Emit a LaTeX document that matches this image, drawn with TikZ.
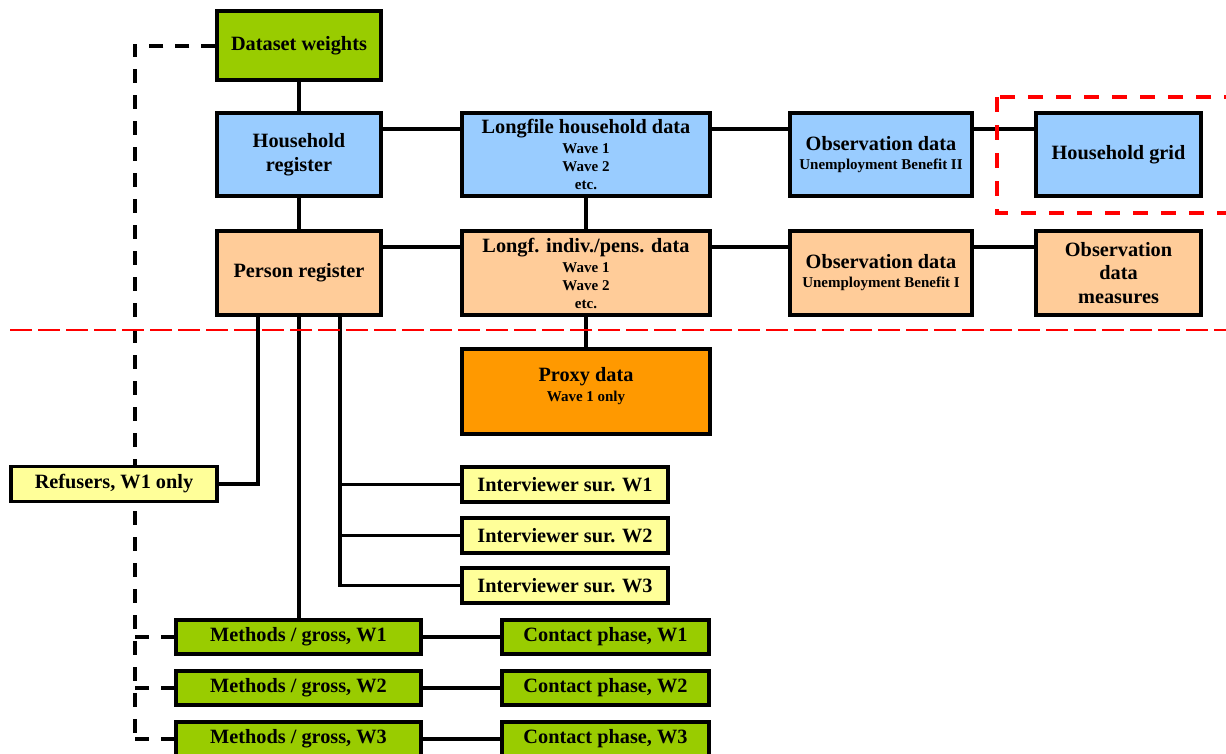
\documentclass[tikz,border=0pt]{standalone}
\usepackage{fontspec}
\setmainfont{Liberation Serif}
\usetikzlibrary{positioning,backgrounds}

\definecolor{wgreen}{RGB}{153,204,0}
\definecolor{hhblue}{RGB}{153,204,255}
\definecolor{perspeach}{RGB}{255,204,153}
\definecolor{proxyorange}{RGB}{255,153,0}
\definecolor{survyellow}{RGB}{255,255,153}
\newcommand{\subfont}{\fontsize{15}{18}\selectfont}

\tikzset{
  box/.style={draw,line width=3.5pt,inner sep=0pt,align=center,
    font=\bfseries\fontsize{20.3}{24}\selectfont},
  greenbox/.style={box,fill=wgreen},
  hhbox/.style={box,fill=hhblue,minimum height=83pt},
  persbox/.style={box,fill=perspeach,minimum height=84pt},
  survbox/.style={box,fill=survyellow,minimum width=206pt,minimum height=35pt},
  link/.style={line width=3.5pt},
  wlink/.style={line width=4pt,dash pattern=on 14pt off 12pt},
  sepline/.style={red,line width=2.4pt,dash pattern=on 22pt off 6pt},
  sepbox/.style={red,line width=4pt,dash pattern=on 15pt off 13pt}
}

\begin{document}
\begin{tikzpicture}[x=1pt,y=-1pt]
\useasboundingbox (0,0) rectangle (1226,753);
% household level
\node[greenbox,minimum width=164pt,minimum height=69pt] (weights) at (299,45.5) {Dataset weights};
\node[hhbox,minimum width=164pt] (hreg) at (299,154.5) {Household\\register};
\node[hhbox,minimum width=248pt] (hlong) at (586,154.5) {Longfile household data\\[-4pt]\subfont Wave 1\\[-6pt]\subfont Wave 2\\[-6pt]\subfont etc.};
\node[hhbox,minimum width=182pt] (hobs) at (881,154.5) {Observation data\\[-5pt]\subfont Unemployment Benefit II};
\node[hhbox,minimum width=165pt] (hgrid) at (1118.5,154.5) {Household grid};
% person level
\node[persbox,minimum width=164pt] (preg) at (299,273) {Person register};
\node[persbox,minimum width=248pt] (plong) at (586,273) {Longf. indiv./pens. data\\[-4pt]\subfont Wave 1\\[-6pt]\subfont Wave 2\\[-6pt]\subfont etc.};
\node[persbox,minimum width=182pt] (pobs) at (881,273) {Observation data\\[-5pt]\subfont Unemployment Benefit I};
\node[persbox,minimum width=165pt] (pmeas) at (1118.5,273) {Observation\\[-0.5pt]data\\[-0.5pt]measures};
\node[box,fill=proxyorange,minimum width=248pt,minimum height=85pt] (proxy) at (586,391.5) {Proxy data\\[-4pt]\subfont Wave 1 only\\[-9pt]\subfont\mbox{}};
% surveys
\node[survbox] (refus) at (114,484) {Refusers, W1 only};
\foreach \i/\y in {1/484.5,2/535.5,3/585.5}
  \node[survbox] (int\i) at (565,\y) {Interviewer sur. W\i};
\foreach \i/\y in {1/637,2/688,3/739}{
  \node[greenbox,minimum width=245pt,minimum height=34pt] (meth\i) at (298.5,\y) {Methods / gross, W\i};
  \node[greenbox,minimum width=207pt,minimum height=34pt] (cont\i) at (605.5,\y) {Contact phase, W\i};
}

% connectors
\begin{scope}[on background layer]
\draw[link] (weights) -- (hreg);
\draw[link] (hreg) -- (preg);
\draw[link] (hlong) -- (plong);
\draw[link] (plong) -- (proxy);
\draw[link] ([yshift=25.5pt]hreg.east) -- ([yshift=25.5pt]hlong.west);
\draw[link] ([yshift=25.5pt]hlong.east) -- ([yshift=25.5pt]hobs.west);
\draw[link] ([yshift=25.5pt]hobs.east) -- ([yshift=25.5pt]hgrid.west);
\draw[link] ([yshift=26pt]preg.east) -- ([yshift=26pt]plong.west);
\draw[link] ([yshift=26pt]plong.east) -- ([yshift=26pt]pobs.west);
\draw[link] ([yshift=26pt]pobs.east) -- ([yshift=26pt]pmeas.west);
\draw[link] ([xshift=-41pt]preg.south) |- (refus.east);
\draw[link] (preg.south) -- (preg.south |- meth1.north);
\foreach \i in {1,2,3}{
  \draw[link] ([xshift=41pt]preg.south) |- (int\i.west);
  \draw[link] (meth\i) -- (cont\i);
}

% weights
\coordinate (wtop) at (135,45.5);
\draw[wlink] (weights.west) -- (wtop) -- (wtop |- meth3.west);
\foreach \i in {1,2,3}
  \draw[wlink] (wtop |- meth\i.west) -- (meth\i.west);
\end{scope}

% separators
\draw[sepline] (10,330) -- (1226,330);
\draw[sepbox] (997,97) rectangle (1240,213);
\end{tikzpicture}
\end{document}
